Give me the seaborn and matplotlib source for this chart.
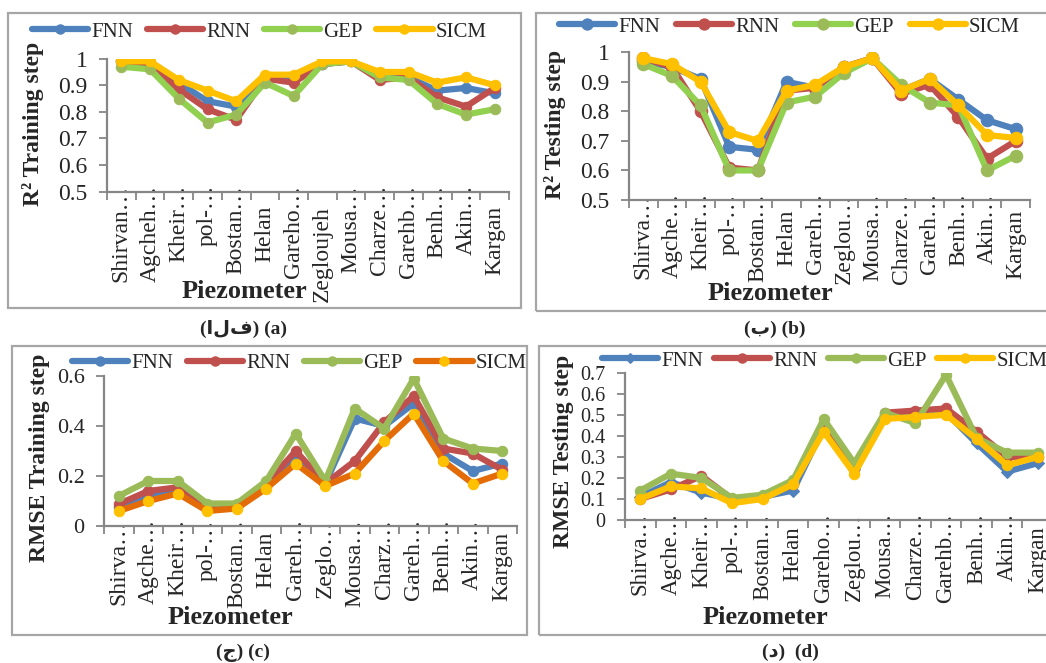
import numpy as np
import matplotlib
matplotlib.use("Agg")
from matplotlib import pyplot as plt
from matplotlib.patches import Rectangle
from matplotlib.ticker import FixedLocator
import seaborn as sns

sns.set_theme(style="white")
plt.rcParams['font.family'] = ['Liberation Serif', 'DejaVu Sans']

models = ["FNN", "RNN", "GEP", "SICM"]

# station labels as cut by the spreadsheet in each panel
stations_a = ["Shirvan…", "Agcheh…", "Kheir…", "pol-…", "Bostan…", "Helan", "Gareho…",
              "Zegloujeh", "Mousa…", "Charze…", "Garehb…", "Benh…", "Akin…", "Kargan"]
stations_b = ["Shirva…", "Agche…", "Kheir…", "pol-…", "Bostan…", "Helan", "Gareh…",
              "Zeglou…", "Mousa…", "Charze…", "Gareh…", "Benh…", "Akin…", "Kargan"]
stations_c = ["Shirva…", "Agche…", "Kheir…", "pol-…", "Bostan…", "Helan", "Gareh…",
              "Zeglo…", "Mousa…", "Charz…", "Gareh…", "Benh…", "Akin…", "Kargan"]
stations_d = ["Shirva…", "Agche…", "Kheir…", "pol-…", "Bostan…", "Helan", "Gareho…",
              "Zeglou…", "Mousa…", "Charze…", "Garehb…", "Benh…", "Akin…", "Kargan"]

# (a) R2 training
r2_train_fnn = [0.99, 0.98, 0.91, 0.84, 0.82, 0.93, 0.93, 0.98, 0.99, 0.93, 0.93, 0.88, 0.89, 0.87]
r2_train_rnn = [0.99, 0.98, 0.885, 0.81, 0.77, 0.925, 0.91, 0.98, 0.99, 0.92, 0.93, 0.855, 0.82, 0.89]
r2_train_gep = [0.97, 0.96, 0.85, 0.76, 0.79, 0.91, 0.86, 0.98, 0.99, 0.93, 0.92, 0.83, 0.79, 0.81]
r2_train_sicm = [0.99, 0.99, 0.92, 0.88, 0.84, 0.94, 0.94, 0.99, 0.99, 0.95, 0.95, 0.91, 0.93, 0.90]

# (b) R2 testing
r2_test_fnn = [0.97, 0.95, 0.91, 0.68, 0.67, 0.90, 0.88, 0.95, 0.98, 0.87, 0.91, 0.84, 0.77, 0.74]
r2_test_rnn = [0.98, 0.95, 0.80, 0.61, 0.60, 0.87, 0.88, 0.95, 0.98, 0.86, 0.89, 0.78, 0.64, 0.70]
r2_test_gep = [0.96, 0.92, 0.82, 0.60, 0.60, 0.83, 0.85, 0.93, 0.98, 0.89, 0.83, 0.82, 0.60, 0.65]
r2_test_sicm = [0.98, 0.96, 0.90, 0.73, 0.70, 0.87, 0.89, 0.95, 0.98, 0.87, 0.91, 0.82, 0.72, 0.71]

# (c) RMSE training
rmse_train_fnn = [0.075, 0.12, 0.14, 0.08, 0.08, 0.16, 0.28, 0.17, 0.43, 0.40, 0.49, 0.29, 0.22, 0.25]
rmse_train_rnn = [0.088, 0.14, 0.155, 0.08, 0.08, 0.17, 0.30, 0.17, 0.26, 0.415, 0.52, 0.31, 0.29, 0.225]
rmse_train_gep = [0.12, 0.18, 0.18, 0.09, 0.09, 0.18, 0.37, 0.18, 0.47, 0.39, 0.59, 0.35, 0.31, 0.30]
rmse_train_sicm = [0.06, 0.10, 0.13, 0.06, 0.07, 0.15, 0.25, 0.16, 0.21, 0.34, 0.45, 0.26, 0.17, 0.21]

# (d) RMSE testing
rmse_test_fnn = [0.11, 0.18, 0.13, 0.10, 0.11, 0.14, 0.44, 0.24, 0.49, 0.49, 0.51, 0.365, 0.23, 0.27]
rmse_test_rnn = [0.10, 0.145, 0.21, 0.10, 0.11, 0.17, 0.45, 0.24, 0.51, 0.52, 0.53, 0.42, 0.30, 0.30]
rmse_test_gep = [0.14, 0.22, 0.20, 0.105, 0.12, 0.19, 0.48, 0.27, 0.51, 0.46, 0.69, 0.39, 0.32, 0.32]
rmse_test_sicm = [0.10, 0.16, 0.15, 0.08, 0.10, 0.17, 0.42, 0.22, 0.48, 0.49, 0.50, 0.385, 0.26, 0.30]

W, H = 1046, 663
fig = plt.figure(figsize=(W / 100, H / 100), dpi=100)
AXIS_GREY = "#868686"


def fx(px):
    return px / W


def fy(py):
    return 1 - py / H


def add_box(x0, y0, x1, y1):
    fig.patches.append(Rectangle((fx(x0), fy(y1)), fx(x1 - x0), (y1 - y0) / H,
                                 transform=fig.transFigure, fill=False,
                                 edgecolor="#a6a6a6", linewidth=1.6, zorder=0))


def draw_panel(rect, stations, series, styles, yticks, tick_fs, ylabel, ylab_xy,
               xlab_xy, legend_xy, caption, cap_xy, lw=4.5, ms=7.5, xtick_fs=17,
               full_drop=21, colsp=0.65):
    left, top, right, bottom = rect
    ax_h = bottom - top
    ax = fig.add_axes([fx(left), fy(bottom), fx(right - left), ax_h / H])
    x = np.arange(len(stations))
    for name, vals in zip(models, series):
        st = styles[name]
        sns.lineplot(x=x, y=vals, ax=ax, color=st["line"], linewidth=lw,
                     marker=st.get("marker", "o"), markersize=st.get("ms", ms),
                     markerfacecolor=st["mk"], markeredgecolor=st["mk"],
                     label=name, legend=False)
    ax.set_xlim(-0.5, len(stations) - 0.5)
    ax.set_ylim(yticks[0], yticks[-1])
    ax.set_yticks(yticks)
    ax.set_yticklabels([f"{v:g}" for v in yticks], fontsize=tick_fs)
    ax.set_xticks(x)
    ax.set_xticklabels(stations, rotation=90, fontsize=xtick_fs)
    ax.xaxis.set_minor_locator(FixedLocator(np.arange(-0.5, len(stations), 1.0)))
    ax.tick_params(axis="x", which="major", length=0, pad=-5)
    ax.tick_params(axis="x", which="minor", length=6, width=1.3, color=AXIS_GREY,
                   direction="out", bottom=True)
    ax.tick_params(axis="y", length=6, width=1.3, color=AXIS_GREY, direction="out",
                   left=True, pad=8)
    # full (uncut) names sit lower than the cut ones, as in the spreadsheet
    for lbl in ax.get_xticklabels():
        if not lbl.get_text().endswith("…"):
            lbl.set_y(-full_drop / ax_h)
    for s in ["top", "right"]:
        ax.spines[s].set_visible(False)
    for s in ["left", "bottom"]:
        ax.spines[s].set_color(AXIS_GREY)
        ax.spines[s].set_linewidth(1.6)
    ax.set_facecolor("none")
    ax.set_xlabel("")
    ax.set_ylabel("")
    fig.text(fx(ylab_xy[0]), fy(ylab_xy[1]), ylabel, rotation=90, ha="center",
             va="center", fontsize=17, fontweight="bold")
    fig.text(fx(xlab_xy[0]), fy(xlab_xy[1]), "Piezometer", ha="center", va="center",
             fontsize=19, fontweight="bold")
    fig.text(fx(cap_xy[0]), fy(cap_xy[1]), caption, ha="center", va="center",
             fontsize=14, fontweight="bold")
    handles, labels = ax.get_legend_handles_labels()
    ax.legend(handles, labels, ncol=4, loc="center left",
              bbox_to_anchor=(fx(legend_xy[0]), fy(legend_xy[1])),
              bbox_transform=fig.transFigure, frameon=False, fontsize=15,
              handlelength=2.7, handletextpad=0.15, columnspacing=colsp,
              borderpad=0, borderaxespad=0, markerscale=0.9)
    return ax


style_ab = {
    "FNN": {"line": "#4F81BD", "mk": "#4F81BD"},
    "RNN": {"line": "#C0504D", "mk": "#C0504D"},
    "GEP": {"line": "#92D050", "mk": "#9BBB59"},
    "SICM": {"line": "#FFC000", "mk": "#FFC000"},
}
style_c = {
    "FNN": {"line": "#4F81BD", "mk": "#4F81BD"},
    "RNN": {"line": "#C0504D", "mk": "#C0504D"},
    "GEP": {"line": "#9BBB59", "mk": "#9BBB59"},
    "SICM": {"line": "#E36C09", "mk": "#FFC000"},
}
style_d = {
    "FNN": {"line": "#4F81BD", "mk": "#4F81BD", "marker": "D", "ms": 6},
    "RNN": {"line": "#C0504D", "mk": "#C0504D"},
    "GEP": {"line": "#9BBB59", "mk": "#9BBB59"},
    "SICM": {"line": "#FFC000", "mk": "#FFC000"},
}

# panel boxes
add_box(8, 13, 521, 308)
add_box(536, 13, 1050, 311)
add_box(12, 346, 527, 635)
add_box(539, 346, 1050, 635)

draw_panel((107, 58.7, 509, 191.7), stations_a,
           [r2_train_fnn, r2_train_rnn, r2_train_gep, r2_train_sicm], style_ab,
           [0.5, 0.6, 0.7, 0.8, 0.9, 1.0], 17, "R² Training step", (33, 124),
           (244, 292), (32, 32), "(الف) (a)", (243, 329))

draw_panel((629, 52.3, 1030, 200), stations_b,
           [r2_test_fnn, r2_test_rnn, r2_test_gep, r2_test_sicm], style_ab,
           [0.5, 0.6, 0.7, 0.8, 0.9, 1.0], 17, "R² Testing step", (555, 124),
           (770, 293), (559, 27), "(ب) (b)", (775, 329), ms=9, full_drop=17,
           colsp=0.75)

draw_panel((104, 376, 517, 526), stations_c,
           [rmse_train_fnn, rmse_train_rnn, rmse_train_gep, rmse_train_sicm], style_c,
           [0, 0.2, 0.4, 0.6], 16, "RMSE Training step", (40, 458),
           (230, 617), (72, 363), "(ج) (c)", (243, 653), full_drop=13)

draw_panel((625, 372.7, 1053, 520), stations_d,
           [rmse_test_fnn, rmse_test_rnn, rmse_test_gep, rmse_test_sicm], style_d,
           [0, 0.1, 0.2, 0.3, 0.4, 0.5, 0.6, 0.7], 14.5, "RMSE Testing step", (563, 451),
           (765, 617), (602, 361), "(د)  (d)", (790, 652), xtick_fs=16.5, full_drop=13,
           colsp=0.5)

fig.savefig("out.png", dpi=100)
